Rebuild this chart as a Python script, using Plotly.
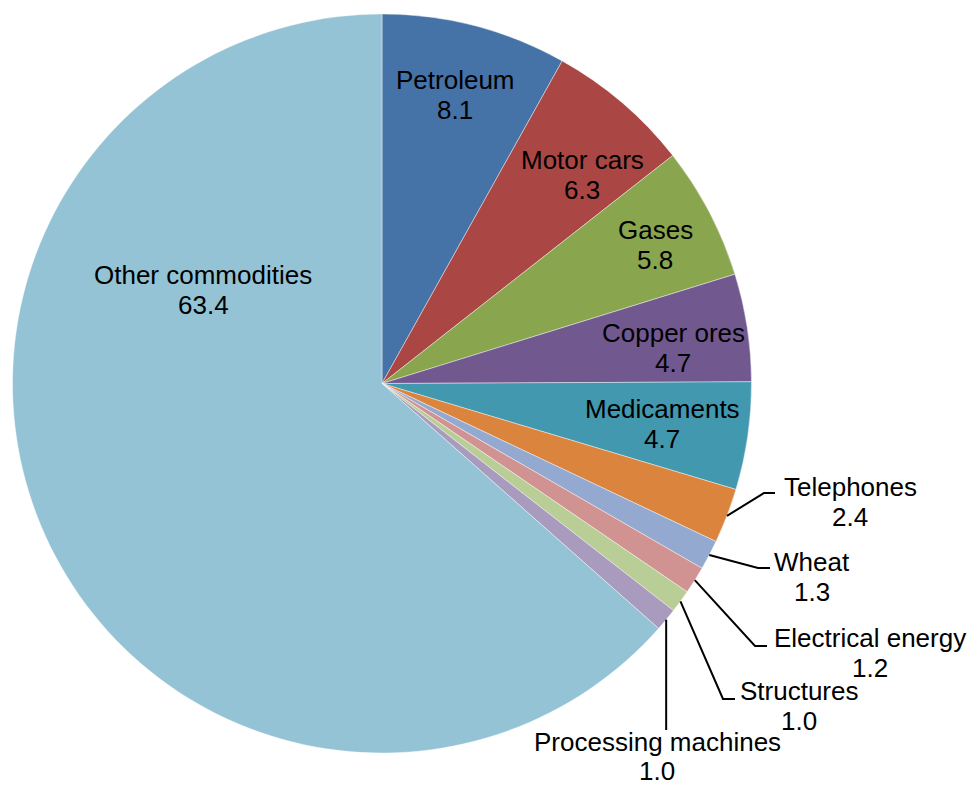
import math
import plotly.graph_objects as go

# ---- data ----
categories = ["Petroleum", "Motor cars", "Gases", "Copper ores", "Medicaments",
              "Telephones", "Wheat", "Electrical energy", "Structures",
              "Processing machines", "Other commodities"]
values = [8.1, 6.3, 5.8, 4.7, 4.7, 2.4, 1.3, 1.2, 1.0, 1.0, 63.4]
colors = ["#4572A7", "#AA4643", "#89A54E", "#71588F", "#4198AF", "#DB843D",
          "#93A9CF", "#D19392", "#B9CD96", "#A99BBD", "#93C3D5"]

W, H = 968, 787
# pie placement (pixels)
CX, CY, R = 382, 383.5, 369.5

# label positions (pixel centre of name line, pixel centre of value line)
label_pos = {
    "Petroleum": (455, 80, 110),
    "Motor cars": (582, 160, 190),
    "Gases": (655, 230, 260),
    "Copper ores": (673, 333, 363),
    "Medicaments": (662, 409, 439),
    "Telephones": (850, 487, 517),
    "Wheat": (812, 562, 592),
    "Electrical energy": (870, 638, 668),
    "Structures": (799, 691, 721),
    "Processing machines": (657, 742, 771),
    "Other commodities": (203, 275, 305),
}
# leader-line elbow points for outside labels (pixels): bend then end
leader = {
    "Telephones": [(764, 493), (775, 493)],
    "Wheat": [(758, 568), (770, 568)],
    "Electrical energy": [(755, 646), (767, 646)],
    "Structures": [(723, 699), (735, 699)],
    "Processing machines": [(None, 730)],
}

def px(x):
    return x / W

def py(y):
    return 1 - y / H

fig = go.Figure(go.Pie(
    labels=categories, values=values, sort=False, direction="clockwise",
    rotation=0, textinfo="none", hoverinfo="label+value",
    marker=dict(colors=colors, line=dict(color="rgba(255,255,255,0.6)", width=0.7)),
    domain=dict(x=[px(CX - R), px(CX + R)], y=[py(CY + R), py(CY - R)]),
    showlegend=False,
))

annotations = []
shapes = []
total = sum(values)
cum = 0.0
FONT = dict(family="Liberation Sans, Arial, sans-serif", size=26, color="black")
for cat, v in zip(categories, values):
    mid = (cum + v / 2) / total * 2 * math.pi
    cum += v
    lx, ly, vy = label_pos[cat]
    annotations.append(dict(x=px(lx), y=py(ly), xref="paper", yref="paper",
                            text=cat, showarrow=False, font=FONT,
                            xanchor="center", yanchor="middle"))
    annotations.append(dict(x=px(lx), y=py(vy), xref="paper", yref="paper",
                            text=f"{v:.1f}", showarrow=False, font=FONT,
                            xanchor="center", yanchor="middle"))
    if cat in leader:
        sx = CX + R * math.sin(mid)
        sy = CY - R * math.cos(mid)
        pts = [(sx, sy)]
        for (x, y) in leader[cat]:
            pts.append((sx if x is None else x, y))
        path = "M " + " L ".join(f"{px(x)},{py(y)}" for x, y in pts)
        shapes.append(dict(type="path", path=path, xref="paper", yref="paper",
                           line=dict(color="black", width=2)))

fig.update_layout(
    width=W, height=H, margin=dict(l=0, r=0, t=0, b=0),
    paper_bgcolor="white", plot_bgcolor="white",
    annotations=annotations, shapes=shapes,
)
fig.write_html("out.html", config={"displayModeBar": False},
               post_script="document.body.style.margin='0px';document.body.style.padding='0px';")
